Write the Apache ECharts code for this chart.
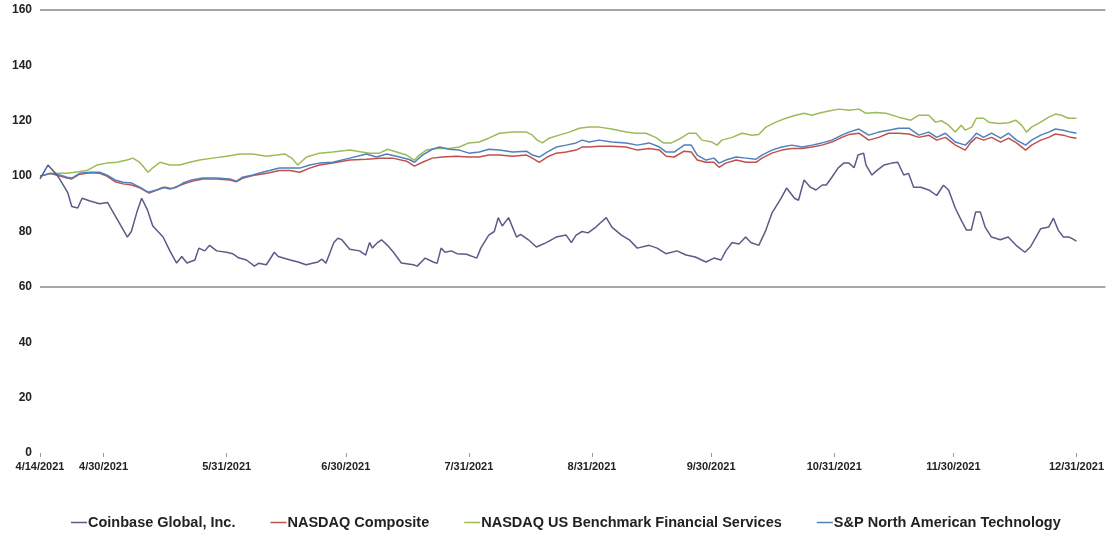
<!DOCTYPE html>
<html>
<head>
<meta charset="utf-8">
<script src="https://cdn.jsdelivr.net/npm/echarts@6/dist/echarts.min.js"></script>
<style>
html,body{margin:0;padding:0;background:#fff;}
#chart{width:1107px;height:535px;}
</style>
</head>
<body>
<div id="chart"></div>
<script>
// x positions are calendar days since 4/14/2021
const tickDays = [0, 16, 47, 77, 108, 139, 169, 200, 230, 261];
const tickLabels = ['4/14/2021','4/30/2021','5/31/2021','6/30/2021','7/31/2021','8/31/2021','9/30/2021','10/31/2021','11/30/2021','12/31/2021'];
const yTicks = [0, 20, 40, 60, 80, 100, 120, 140, 160];
const seriesNames = ['Coinbase Global, Inc.', 'NASDAQ Composite', 'NASDAQ US Benchmark Financial Services', 'S&P North American Technology'];

const coinbaseDays = [0,2,4.5,7,8,9.5,10.6,12.6,15,17,18.4,20,22,23,24.4,25.6,27,28.4,31,32.7,34.4,35.7,37,39,40,41.5,42.7,44.5,47,48.5,50,52,54,55,57,59,60,63,65,67,70,71,72,74,75,76,78,80.5,82,83,83.7,85,86,87.5,89,91,94,95,97,99,100,101,102,103.6,105,107.4,110,111,113,114.4,115.4,116.4,118,120,121,123,125,127.5,130,132.5,133.8,135,136.5,138,140,141,142.6,144,146.4,148.4,150.4,153.4,155.4,157.6,160.4,162.7,165,167.7,169.7,171.5,172.7,174.3,176,177.7,179,181,182.8,184.3,186.6,188,190,191,192.4,194,195.4,197,198,199.4,201,202.4,203.7,205,206,207.4,208,209.5,210.7,212.5,214.5,216,217.5,218.7,220,221.8,223.8,225.8,227.5,228.8,230.5,232,233.3,234.5,235.6,236.8,238,239.6,241.8,243.8,245.8,248,249.4,250.8,252,254,255.2,256.4,257.7,259,259.7,261];
const coinbaseValues = [99,104,100,94,89,88.5,92,91,90,90.5,87,83,78,80,87,92,88,82,78,73,68.6,71,68.6,69.7,74,73,75,73,72.5,72,70.5,69.7,67.5,68.5,68,72.5,71,69.7,69,68,69,70,68.5,76,77.6,77,73.6,73,71.5,76,74,76,77,75,72.5,68.6,68,67.5,70.4,69,68.5,74,72.5,73,72,71.8,70.4,74,78.7,80,85,82,85,78,79,77,74.4,76,78,78.7,76,78.7,80,79.5,81.6,83,85,81.6,78.7,77,74,75,74,72,73,71.5,70.8,69,70.4,69.7,73,76,75.5,78,76,75,80.5,86.6,92,95.7,92,91.3,98.6,96,95,96.8,96.8,99.6,103,104.7,104.7,103,107.6,108.3,104,100.4,102,104,104.7,105,100.4,101,96,96,95,93,96.7,95,88.4,84,80.5,80.5,87,87,81.6,78,77,78,75,72.5,74.4,78,81,81.6,84.8,80.5,78,78,77.6,76.5];

const financialDays = [0,3.3,6.8,9.3,11.8,14.3,16.8,19.4,21.9,23.4,25.1,27.2,28.4,30.2,32.7,35.2,37.7,40.2,43.5,47,50.3,53.6,57,59.6,61.6,63.4,64.9,67.1,70.4,73.7,78,81,83,85.5,87.5,89.8,92.3,94.3,95.5,97.3,99.8,103,105.6,108,110.6,113,115.7,119,122.5,124,125.2,126.5,128.2,130.7,133.3,135.8,138.3,140.8,144,147.6,150,152.6,155,157,159,161,163.4,165.2,166.7,169.2,170.5,171.7,174.3,176.8,179.3,181,182.8,185.3,187.8,190.3,192.4,194.4,196.1,198.6,201.2,203.7,206.2,208,210.5,213,216.2,219.3,221.3,223.8,225.5,227,228.8,230.5,232,233,234.6,235.8,237.6,238.9,241.4,243.9,245.7,247.2,248.4,249.7,252,254,255.7,257.2,259,261];
const financialValues = [100,101,101,101.5,102,104,104.7,105,105.8,106.5,105,101.4,103,105,104,104,105,105.8,106.5,107.2,108,108,107.2,107.6,108,106.5,104,106.9,108.3,108.7,109.4,108.7,108.3,108.3,109.7,108.7,107.6,105.8,107.6,109.4,110,110,110.5,112,112.3,113.7,115.5,115.9,115.9,114.8,113,112,113.7,114.8,115.9,117.3,117.7,117.7,117,115.9,115.5,115.5,114,112,112,113.4,115.5,115.5,113,112.3,111.2,113,114,115.5,114.8,115,117.7,119.5,120.9,122,122.7,122,122.7,123.5,124.2,123.8,124.2,122.7,123,122.7,121.3,120.2,122,122,119.5,120,118.4,115.9,118.4,116.6,117.7,120.9,120.9,119.5,119,119.3,120.2,118.4,115.9,117.7,119.5,121.3,122.4,122,120.9,120.9];

const techDays = [0,2.5,5,6.8,8,10,12.6,15,16.8,18.9,20.9,23.1,25.1,27.2,29.4,31,32.7,34.4,36,38.2,41,44.5,47.8,49.5,51,53.6,56,57.8,60.3,62.9,65.4,67.9,70.4,73.7,78,82.2,84.7,87.3,90.5,93,94.3,96.3,98.8,100.6,103,105.6,108,110.6,113,115.7,119,122.5,124,125.7,127.7,130,132.5,135,136.5,138.3,140.8,144,147.6,150.4,153.4,156,157.7,159.7,162.2,164,165.5,167.7,169.7,171,172.7,175.3,177.8,180.3,181.8,184.3,186.8,189.3,191.9,194.4,196.9,199.4,201.9,203.7,206.2,208.7,211.2,213.7,216.2,218.8,221.3,223.8,225.8,228,230.5,233,234.3,235.8,237.6,239.6,241.9,243.9,245.9,248.2,249.7,252,254,255.7,257.7,259.5,261];
const techValues = [100,101,100.4,99.6,99.3,101,101.4,101.4,100.4,98.6,97.8,97.5,96,94.2,95,96,95.3,96,97.5,98.6,99.3,99.3,99,98.2,99.6,100.4,101.4,102,102.9,102.9,102.9,104,104.7,105,106.5,108,106.9,108,106.9,106,105,107.6,109.7,110.5,109.7,109.4,108.3,108.7,109.7,109.4,108.7,109,107.6,106.9,108.7,110.5,111.2,112,113,112.3,113,112.3,112,111.2,112,110.5,108.7,108.7,111.2,111.2,107.6,105.8,106.5,104.7,105.8,106.9,106.5,106.1,107.6,109.4,110.5,111.2,110.5,111.2,112,113,114.8,115.9,117,114.8,115.9,116.6,117.3,117.3,114.8,115.9,114,115.5,112.3,111.2,113,115.5,114,115.5,113.7,115.5,113,111.2,113,114.8,115.9,117,116.6,115.9,115.5];

const compositeDays = [0,2.5,5,6.8,8,10,12.6,15,16.8,18.9,20.9,23.1,25.1,27.5,29.4,31.5,33,35,36.8,38.5,41,44.5,47.8,49.5,51,53.6,56,57.8,60.3,62.9,65.4,67.9,70.4,73.7,78,82.2,85.5,88.8,92.3,94.3,96.3,98.8,101.3,104.8,108,110.6,113,115.7,119,122.5,124,125.7,127.7,130,132.5,135,136.5,138.3,140.8,144,147.6,150.4,153.4,156,157.7,159.7,162.2,164,165.5,167.7,169.7,171,172.7,175.3,177.8,180.3,181.8,184.3,186.8,189.3,191.9,194.4,196.9,199.4,201.9,203.7,206.2,208.7,211.2,213.7,216.2,218.8,221.3,223.8,225.8,228,230.5,233,234.3,235.8,237.6,239.6,241.9,243.9,245.9,248.2,249.7,252,254,255.7,257.7,259.5,261];
const compositeValues = [100,101,100,99.3,99,100.7,101.2,101,100,98,97.2,96.8,95.8,93.9,95,96,95.5,96.5,97.5,98.2,99,99,98.6,98,99.2,100.2,100.8,101.2,102,102,101.4,102.9,104,104.7,105.8,106.1,106.5,106.5,105.4,103.6,105,106.5,106.9,107.2,106.9,106.9,107.6,107.6,107.2,107.6,106.5,105,106.9,108.3,108.7,109.4,110.5,110.5,110.8,110.8,110.5,109.4,110,109.4,107.2,106.9,109,108.7,105.8,105,105,103.2,104.7,105.8,105,105,106.5,108.3,109.4,110,110,110.5,111.2,112.3,114,115,115.5,113,114,115.5,115.5,115.2,114,114.8,113,114,111.2,109.4,112,114,113,114,112.3,113.7,112,109.4,111.2,113,114,115.2,114.8,114,113.7];

const colors = ['#5b5a88', '#c0504d', '#9bbb59', '#4f81bd'];

function zip(days, vals) { return days.map((d, i) => [d, vals[i]]); }

const chart = echarts.init(document.getElementById('chart'));
const labelMap = {};
tickDays.forEach((d, i) => { labelMap[d] = tickLabels[i]; });

const dataSets = [zip(coinbaseDays, coinbaseValues), zip(compositeDays, compositeValues), zip(financialDays, financialValues), zip(techDays, techValues)];

const series = seriesNames.map((name, i) => ({
  name: name,
  type: 'line',
  data: dataSets[i],
  showSymbol: false,
  symbol: 'none',
  lineStyle: { width: 1.5, color: colors[i] },
  itemStyle: { color: colors[i] },
  z: [4, 2, 1, 3][i],
  animation: false
}));
series[0].markLine = {
  silent: true,
  symbol: 'none',
  label: { show: false },
  lineStyle: { color: '#8a8a8a', width: 1.5, type: 'solid' },
  data: [{ yAxis: 160 }, { yAxis: 60 }],
  animation: false
};

chart.setOption({
  backgroundColor: '#fff',
  animation: false,
  grid: { left: 40, right: 0, top: 10, bottom: 82, containLabel: false },
  xAxis: {
    type: 'value',
    min: 0,
    max: 268.3,
    axisLine: { show: false },
    splitLine: { show: false },
    axisTick: { show: true, customValues: tickDays, length: 4, lineStyle: { color: '#999' } },
    axisLabel: {
      customValues: tickDays,
      formatter: v => labelMap[v] || '',
      fontFamily: 'Liberation Sans, Arial, sans-serif',
      fontSize: 11,
      fontWeight: 'bold',
      color: '#222',
      margin: 8
    }
  },
  yAxis: {
    type: 'value',
    min: 0,
    max: 160,
    interval: 20,
    axisLine: { show: false },
    axisTick: { show: false },
    splitLine: { show: false },
    axisLabel: {
      customValues: yTicks,
      fontFamily: 'Liberation Sans, Arial, sans-serif',
      fontSize: 12,
      fontWeight: 'bold',
      color: '#222',
      margin: 8
    }
  },
  legend: {
    left: 71,
    top: 515,
    padding: 0,
    icon: 'rect',
    itemWidth: 16,
    itemHeight: 1.5,
    itemGap: 35,
    itemStyle: { borderWidth: 0 },
    textStyle: {
      fontFamily: 'Liberation Sans, Arial, sans-serif',
      fontSize: 14.5,
      fontWeight: 'bold',
      color: '#222',
      padding: [0, 0, 0, -4]
    },
    data: seriesNames
  },
  series: series
});
</script>
</body>
</html>
